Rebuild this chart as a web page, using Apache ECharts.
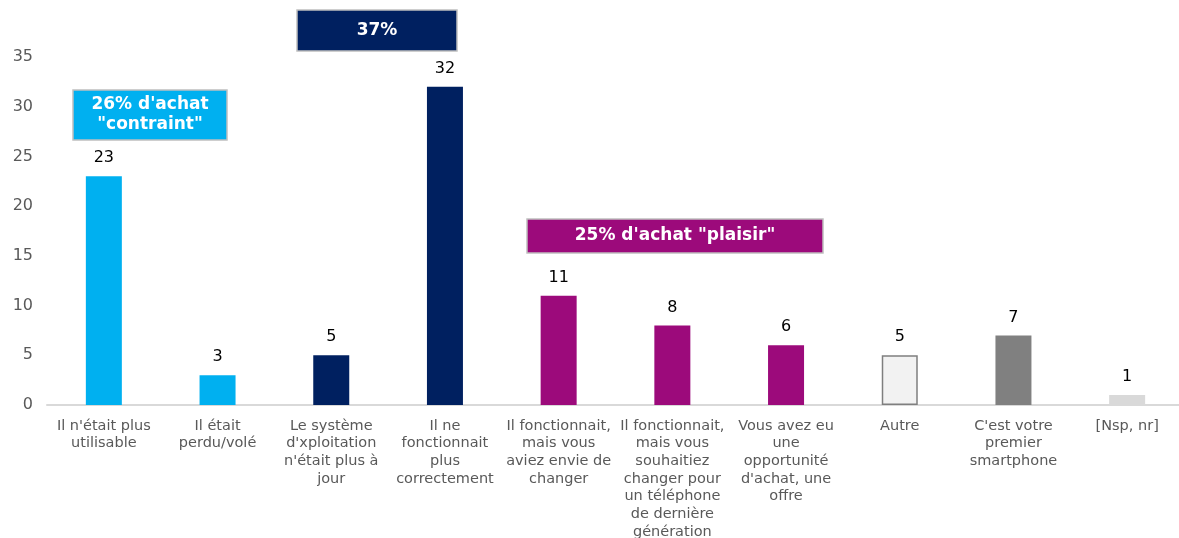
<!DOCTYPE html>
<html>
<head>
<meta charset="utf-8">
<script src="https://cdn.jsdelivr.net/npm/echarts@6/dist/echarts.min.js"></script>
<style>
  html, body { margin: 0; padding: 0; background: #fff; }
  #chart { width: 1179px; height: 538px; }
</style>
</head>
<body>
<div id="chart"></div>
<script>
const categories = [
  "Il n'était plus\nutilisable",
  "Il était\nperdu/volé",
  "Le système\nd'xploitation\nn'était plus à\njour",
  "Il ne\nfonctionnait\nplus\ncorrectement",
  "Il fonctionnait,\nmais vous\naviez envie de\nchanger",
  "Il fonctionnait,\nmais vous\nsouhaitiez\nchanger pour\nun téléphone\nde dernière\ngénération",
  "Vous avez eu\nune\nopportunité\nd'achat, une\noffre",
  "Autre",
  "C'est votre\npremier\nsmartphone",
  "[Nsp, nr]"
];
const values = [23, 3, 5, 32, 11, 8, 6, 5, 7, 1];
const barColors = ['#00B0F0', '#00B0F0', '#002060', '#002060', '#9C0A7B', '#9C0A7B', '#9C0A7B', '#F2F2F2', '#808080', '#D9D9D9'];
const yTicks = [0, 5, 10, 15, 20, 25, 30, 35];

const font = 'Verdana, "DejaVu Sans", sans-serif';
const chart = echarts.init(document.getElementById('chart'));

const boxes = [
  { x: 73, y: 90, w: 154, h: 50, color: '#00B0F0', text: "26% d'achat\n\"contraint\"" },
  { x: 297, y: 10, w: 160, h: 41, color: '#002060', text: '37%' },
  { x: 527, y: 219, w: 296, h: 34, color: '#9C0A7B', text: "25% d'achat \"plaisir\"" }
];

chart.setOption({
  animation: false,
  grid: { left: 47, top: 57, bottom: 133, width: 1137, containLabel: false, outerBoundsMode: 'none' },
  xAxis: {
    type: 'category',
    data: categories,
    axisLine: { lineStyle: { color: '#d9d9d9', width: 2 } },
    axisTick: { show: false },
    axisLabel: {
      interval: 0, color: '#595959', fontFamily: font, fontSize: 14.5,
      lineHeight: 17.7, margin: 12
    }
  },
  yAxis: {
    type: 'value', min: yTicks[0], max: yTicks[yTicks.length - 1], interval: 5,
    splitLine: { show: false },
    axisLine: { show: false },
    axisTick: { show: false },
    axisLabel: { color: '#595959', fontFamily: font, fontSize: 16, margin: 14 }
  },
  series: [{
    type: 'bar',
    barWidth: 36,
    data: values.map((v, i) => ({
      value: v,
      itemStyle: i === 7
        ? { color: barColors[i], borderColor: '#7f7f7f', borderWidth: 1.5 }
        : { color: barColors[i], borderWidth: 0 }
    })),
    label: {
      show: true, position: 'top', distance: 10,
      color: '#000', fontFamily: font, fontSize: 16
    }
  }],
  graphic: boxes.map(b => ({
    type: 'group',
    children: [
      { type: 'rect', shape: { x: b.x, y: b.y, width: b.w, height: b.h },
        style: { fill: b.color, stroke: '#bfbfbf', lineWidth: 1.5 } },
      { type: 'text', x: b.x + b.w / 2, y: b.y + b.h / 2,
        style: { text: b.text, fill: '#fff', font: 'bold 17px ' + font,
                 align: 'center', verticalAlign: 'middle', lineHeight: 20 } }
    ]
  }))
});
</script>
</body>
</html>
